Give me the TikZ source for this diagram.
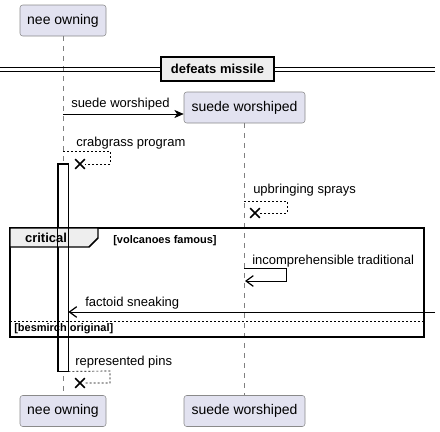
\documentclass[tikz,border=0pt]{standalone}
\usepackage{fontspec}
\setmainfont{Liberation Sans}
\usetikzlibrary{arrows.meta,shapes.misc}
\definecolor{partfill}{HTML}{E2E2F0}
\definecolor{partline}{HTML}{8A8A8A}
\definecolor{grpfill}{HTML}{EEEEEE}

\begin{document}
\begin{tikzpicture}[x=0.75pt,y=-0.75pt,
    participant/.style={rectangle, rounded corners=2pt, draw=partline, fill=partfill, minimum height=23.25pt, inner sep=0pt, font=\fontsize{10.5}{12}\selectfont},
    lifeline/.style={draw=gray, dash pattern=on 3.75pt off 3.75pt, line width=0.4pt},
    msg/.style={font=\fontsize{9.75}{11}\selectfont, anchor=base west, inner sep=0pt},
    ret/.style={dash pattern=on 1.5pt off 1.5pt, line width=0.5pt},
    lost/.style={cross out, draw, line width=1.2pt, minimum size=6pt, inner sep=0pt},
    guard/.style={font=\bfseries\fontsize{8.25}{10}\selectfont, anchor=base west, inner sep=0pt},
    barb/.style={-{Straight Barb[length=5.5pt,width=8pt,line width=0.9pt]}}]
    \useasboundingbox (0,0) rectangle (440,432);

    \node[participant, minimum width=64.5pt] (nee) at (63,20.5) {nee owning};
    \node[participant, minimum width=90.75pt] (sw) at (244.5,107.5) {suede worshiped};
    \node[participant, minimum width=64.5pt] (neeB) at (63,411) {nee owning};
    \node[participant, minimum width=90.75pt] (swB) at (244.5,411) {suede worshiped};

    \draw[lifeline] (nee) -- (neeB);
    \draw[lifeline] (sw) -- (swB);

    % separator
    \draw[line width=0.6pt] (0,67) -- (435,67);
    \draw[line width=0.6pt] (0,71) -- (435,71);
    \node[draw, line width=1.1pt, fill=grpfill, minimum width=84.75pt, minimum height=18pt, font=\bfseries\fontsize{9.75}{11}\selectfont] (div) at (217.5,69) {defeats missile};

    \coordinate (m1) at (63,114);
    \draw[line width=0.5pt, -{Stealth[length=7pt,width=6pt,inset=2pt]}] (m1) -- (sw.west |- m1);
    \node[msg] (m1l) at (71,107) {suede worshiped};

    \node[lost] (x1) at (80,164) {};
    \coordinate (s1) at (63,151);
    \draw[ret] (s1) -- (110,151) -- (110,164) -- (x1);
    \node[msg] (s1l) at (76,146) {crabgrass program};

    \node[draw, fill=white, minimum width=7.5pt, minimum height=155.25pt, inner sep=0pt, line width=0.6pt] (act) at (63,267.5) {};

    \node[lost] (x2) at (255,213) {};
    \coordinate (s2) at (244,201);
    \draw[ret] (s2) -- (287,201) -- (287,213) -- (x2);
    \node[msg] (s2l) at (253,193) {upbringing sprays};

    % critical
    \draw[line width=1.1pt] (10,228) rectangle (424,337);
    \draw[fill=grpfill, line width=1.1pt] (10,228) -- (98,228) -- (98,238) -- (89,247) -- (10,247) -- cycle;
    \node[font=\bfseries\fontsize{9.75}{11}\selectfont] (crit) at (46,238) {critical};
    \node[guard] (g1) at (113,243) {[volcanoes famous]};
    \draw[line width=0.6pt] (act.south west) rectangle (act.north east);

    \coordinate (s3) at (244,268);
    \draw[line width=0.5pt, barb] (s3) -- (286,268) -- (286,281) -- (245,281);
    \node[msg] (s3l) at (252,264) {incomprehensible traditional};

    \coordinate (f0) at (435,312);
    \draw[line width=0.5pt, barb] (f0) -- (act.east |- f0);
    \node[msg] (f0l) at (85,306) {factoid sneaking};

    \draw[dash pattern=on 1.5pt off 1.5pt, line width=0.5pt] (10,321) -- (424,321);
    \node[guard] (g2) at (14,331) {[besmirch original]};

    \node[lost] (x4) at (80,383) {};
    \draw[ret] (act.south east) -- (110,371) -- (110,383) -- (x4);
    \node[msg] (s4l) at (75,365) {represented pins};

  \end{tikzpicture}
\end{document}
